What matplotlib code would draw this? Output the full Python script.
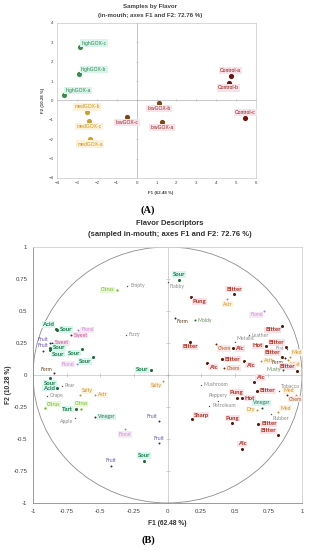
import numpy as np
import matplotlib
matplotlib.use("Agg")
import matplotlib.pyplot as plt
from matplotlib.patches import Circle

plt.rcParams['font.family'] = ['Liberation Sans', 'DejaVu Sans']

# (A) samples on F1/F2
sample_names = ["highGOX-a", "highGOX-b", "highGOX-c", "medGOX-a", "medGOX-b", "medGOX-c",
                "lowGOX-a", "lowGOX-b", "lowGOX-c", "Control-a", "Control-b", "Control-c"]
sample_f1 = [-3.65, -2.88, -2.85, -2.34, -2.48, -2.39, 1.28, 1.13, -0.48, 4.73, 4.63, 5.46]
sample_f2 = [0.29, 1.38, 2.75, -1.98, -0.60, -1.06, -1.11, -0.15, -0.87, 1.27, 0.92, -0.89]
sample_group = ["high", "high", "high", "med", "med", "med",
                "low", "low", "low", "ctrl", "ctrl", "ctrl"]
sample_place = ["ar", "ar", "ar", "b", "a", "b", "b", "b", "b", "a", "b", "a"]

# (B) flavor descriptors on F1/F2
desc_names = ["Sour", "Flabby", "Pung", "Citrus", "Empty", "Fizzy", "Ferm", "Moldy", "Bitter", "Astr",
              "Floral", "Bitter", "Leather", "Metallic", "Bitter", "Chem", "Alc", "Hot", "Bitter", "Flat",
              "Bitter", "Alc", "Alc", "Chem", "Astr", "Bitter", "Ferm", "Med", "Med", "Bitter",
              "Musty", "Sour", "Salty", "Alc", "Bitter", "Tobacco", "Med", "Chem", "Mushroom", "Pung",
              "Hot", "Peppery", "Petroleum", "Vinegar", "Dry", "Med", "Rubber", "Sharp", "Pung", "Bitter",
              "Bitter", "Alc", "Fruit", "Fruit", "Floral", "Fruit", "Sour",
              "Acid", "Sour", "Floral", "Sweet", "Fruit", "Sweet", "Fruit", "Sour", "Sour", "Sour",
              "Sour", "Floral", "Ferm", "Sour", "Acid", "Pear", "Grape", "Salty", "Astr", "Citrus",
              "Tart", "Citrus", "Vinegar", "Apple"]
desc_f1 = [0.085, 0.006, 0.172, -0.373, -0.299, -0.309, 0.058, 0.204, 0.494, 0.445,
           0.720, 0.854, 0.606, 0.502, 0.167, 0.358, 0.485, 0.730, 0.879, 0.885,
           0.403, 0.296, 0.571, 0.420, 0.695, 0.849, 0.874, 0.911, 0.898, 0.960,
           0.861, -0.123, -0.031, 0.643, 0.663, 0.831, 0.953, 0.886, 0.249, 0.514,
           0.554, 0.378, 0.311, 0.700, 0.668, 0.824, 0.767, 0.180, 0.482, 0.675,
           0.819, 0.554, -0.061, -0.061, -0.316, -0.422, -0.175,
           -0.830, -0.820, -0.663, -0.720, -0.874, -0.857, -0.923, -0.874, -0.870, -0.638,
           -0.556, -0.671, -0.842, -0.874, -0.819, -0.787, -0.898, -0.651, -0.539, -0.911,
           -0.680, -0.643, -0.539, -0.688]
desc_f2 = [0.745, 0.724, 0.607, 0.664, 0.698, 0.315, 0.448, 0.427, 0.630, 0.594,
           0.502, 0.385, 0.310, 0.255, 0.260, 0.240, 0.208, 0.227, 0.221, 0.205,
           0.123, 0.094, 0.109, 0.052, 0.112, 0.143, 0.130, 0.143, 0.117, 0.034,
           0.039, 0.039, -0.047, -0.052, -0.125, -0.122, -0.156, -0.156, -0.078, -0.177,
           -0.182, -0.203, -0.240, -0.260, -0.273, -0.291, -0.307, -0.346, -0.378, -0.383,
           -0.469, -0.580, -0.357, -0.534, -0.424, -0.708, -0.669,
           0.360, 0.355, 0.352, 0.310, 0.248, 0.252, 0.187, 0.213, 0.195, 0.203,
           0.138, 0.084, 0.013, -0.026, -0.104, -0.083, -0.164, -0.156, -0.156, -0.260,
           -0.268, -0.268, -0.326, -0.333]
desc_group = ["sour", "grey", "red", "citrus", "grey", "grey", "ferm", "musty", "red", "orange",
              "floral", "red", "grey", "grey", "red", "chem", "red", "red", "red", "grey",
              "red", "red", "red", "chem", "orange", "red", "ferm", "orange", "orange", "red",
              "musty", "sour", "orange", "red", "red", "grey", "orange", "chem", "grey", "red",
              "red", "grey", "grey", "vinegar", "orange", "orange", "grey", "red", "red", "red",
              "red", "red", "fruit", "fruit", "floral", "fruit", "sour",
              "sour", "sour", "floral", "sweet", "fruit", "sweet", "fruit", "sour", "sour", "sour",
              "sour", "floral", "ferm", "sour", "sour", "grey", "grey", "orange", "orange", "citrus",
              "sour", "citrus", "vinegar", "grey"]
desc_place = ["a", "br", "br", "l", "r", "r", "br", "r", "a", "b",
              "bl", "bl", "r", "ar", "b", "br", "r", "l", "al", "l",
              "r", "br", "br", "r", "r", "al", "bl", "ar", "br", "al",
              "l", "l", "bl", "ar", "r", "ar", "al", "br", "r", "a",
              "r", "a", "r", "a", "l", "ar", "br", "ar", "a", "r",
              "al", "a", "al", "a", "b", "a", "a",
              "al", "r", "r", "r", "al", "r", "a", "r", "br", "bl",
              "bl", "l", "al", "b", "l", "r", "r", "ar", "r", "ar",
              "l", "a", "r", "bl"]

# styles: point color, text color, label background, marker size
sample_style = {
    "high": ("#3f8a4e", "#2f7d46", "#d8f5ec"),
    "med": ("#c9a233", "#c8921f", "#fdf2d8"),
    "low": ("#7a4414", "#8c2a1c", "#fbe1e9"),
    "ctrl": ("#6a1510", "#7a1a12", "#fbe1e9"),
}
desc_style = {
    "sour": ("#1f6b38", "#1f7a48", "#d6f6ee", 5),
    "citrus": ("#79b52d", "#7ab52f", "#e8f8d8", 3),
    "fruit": ("#2a2a78", "#6a52aa", "none", 2),
    "floral": ("#9a80c8", "#c98fd2", "#f9e8f6", 2),
    "sweet": ("#3a1a4a", "#c2508a", "#fbe4f0", 2),
    "grey": ("#555555", "#8a8a8a", "none", 1),
    "orange": ("#c08a2c", "#c8902e", "#fdf3e0", 2),
    "red": ("#5a1a0c", "#a3301e", "#fbe1e8", 5),
    "chem": ("#5a2a0c", "#a0602c", "#fbe8e4", 2),
    "ferm": ("#3a2010", "#5a3a1a", "none", 2),
    "musty": ("#3a5a30", "#6a8a60", "none", 2),
    "vinegar": ("#1a3a2a", "#3a6a55", "#d6f6ee", 2),
}
place_offset = {
    "a": ((0, 2), "center", "bottom"), "b": ((0, -2), "center", "top"),
    "l": ((-2, 0), "right", "center"), "r": ((2, 0), "left", "center"),
    "ar": ((1.2, 1.2), "left", "bottom"), "al": ((-1.2, 1.2), "right", "bottom"),
    "br": ((1.2, -1.2), "left", "top"), "bl": ((-1.2, -1.2), "right", "top"),
}

fig = plt.figure(figsize=(3.09, 5.5), dpi=100)

# ---------- panel A ----------
axA = fig.add_axes([0.1845, 0.6764, 0.644, 0.2818])
axA.set_xlim(-4, 6)
axA.set_ylim(-4, 4)
for s in axA.spines.values():
    s.set_color("#c8c8c8")
    s.set_linewidth(0.5)
axA.axhline(0, color="#b0b0b0", lw=0.5, zorder=0)
axA.axvline(0, color="#b0b0b0", lw=0.5, zorder=0)
xt = np.arange(-4, 7)
yt = np.arange(-4, 5)
axA.set_xticks(xt)
axA.set_yticks(yt)
axA.tick_params(length=0, labelsize=3.2, pad=2.5, labelcolor="#404040")
axA.plot(xt, np.zeros_like(xt), ls="none", marker="|", ms=2, mew=0.4, color="#b0b0b0")
axA.plot(np.zeros_like(yt), yt, ls="none", marker="_", ms=2, mew=0.4, color="#b0b0b0")
for name, x, y, g, p in zip(sample_names, sample_f1, sample_f2, sample_group, sample_place):
    pc, tc, bg = sample_style[g]
    axA.scatter(x, y, s=14, color=pc, zorder=3, linewidths=0)
    off, ha, va = place_offset[p]
    axA.annotate(name, (x, y), xytext=off, textcoords="offset points", ha=ha, va=va,
                 fontsize=3.6, color=tc,
                 bbox=dict(boxstyle="square,pad=0.25", fc=bg, ec="none"))

fig.text(0.487, 0.989, "Samples by Flavor", ha="center", va="center", fontsize=4.4, weight="bold",
         color="#404040")
fig.text(0.487, 0.9727, "(in-mouth; axes F1 and F2: 72.76 %)", ha="center", va="center",
         fontsize=4.4, weight="bold", color="#404040")
fig.text(0.521, 0.649, "F1 (62.48 %)", ha="center", va="center", fontsize=3.2, weight="bold",
         color="#404040")
fig.text(0.139, 0.818, "F2 (10.28 %)", ha="center", va="center", rotation=90, fontsize=3.2,
         weight="bold", color="#404040")
fig.text(0.479, 0.618, "(A)", ha="center", va="center", fontsize=7.5, weight="bold",
         family="Liberation Serif")

# ---------- panel B ----------
axB = fig.add_axes([0.1068, 0.0855, 0.8706, 0.4655])
axB.set_xlim(-1, 1)
axB.set_ylim(-1, 1)
for side in ["top", "right"]:
    axB.spines[side].set_color("#d0d0d0")
for side in ["left", "bottom"]:
    axB.spines[side].set_color("#8a8a8a")
for s in axB.spines.values():
    s.set_linewidth(0.6)
axB.axhline(0, color="#c0c0c0", lw=0.5, zorder=0)
axB.axvline(0, color="#c0c0c0", lw=0.5, zorder=0)
ticks = np.arange(-1, 1.01, 0.25)
tick_lbls = ["-1", "-0.75", "-0.5", "-0.25", "0", "0.25", "0.5", "0.75", "1"]
axB.set_xticks(ticks)
axB.set_xticklabels(tick_lbls)
axB.set_yticks(ticks)
axB.set_yticklabels(tick_lbls)
axB.tick_params(length=0, labelsize=4.4, pad=4, labelcolor="#404040")
axB.plot(ticks, np.zeros_like(ticks), ls="none", marker="|", ms=2.5, mew=0.4, color="#b0b0b0")
axB.plot(np.zeros_like(ticks), ticks, ls="none", marker="_", ms=2.5, mew=0.4, color="#b0b0b0")
axB.add_patch(Circle((0, 0), 1, fill=False, ec="#8c8c8c", lw=0.6, zorder=1))

for name, x, y, g, p in zip(desc_names, desc_f1, desc_f2, desc_group, desc_place):
    pc, tc, bg, ms = desc_style[g]
    axB.scatter(x, y, s=ms, color=pc, zorder=3, linewidths=0)
    off, ha, va = place_offset[p]
    big = g in ("sour", "red")
    axB.annotate(name, (x, y), xytext=off, textcoords="offset points", ha=ha, va=va,
                 fontsize=4.3 if big else 3.7, color=tc, family=["Lato", "DejaVu Sans"],
                 weight="bold" if big else "normal",
                 bbox=dict(boxstyle="square,pad=0.12", fc=bg, ec="none"))

fig.text(0.55, 0.593, "Flavor Descriptors", ha="center", va="center", fontsize=5.5, weight="bold",
         color="#303030")
fig.text(0.55, 0.573, "(sampled in-mouth; axes F1 and F2: 72.76 %)", ha="center", va="center",
         fontsize=5.5, weight="bold", color="#303030")
fig.text(0.540, 0.049, "F1 (62.48 %)", ha="center", va="center", fontsize=4.8, weight="bold",
         color="#303030")
fig.text(0.026, 0.30, "F2 (10.28 %)", ha="center", va="center", rotation=90, fontsize=4.8,
         weight="bold", color="#303030")
fig.text(0.479, 0.018, "(B)", ha="center", va="center", fontsize=7.5, weight="bold",
         family="Liberation Serif")

fig.savefig("out.png", dpi=100)
